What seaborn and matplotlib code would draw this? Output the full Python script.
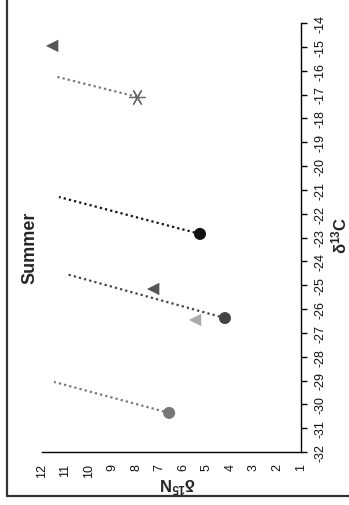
import matplotlib
matplotlib.use("Agg")
import matplotlib.pyplot as plt
import seaborn as sns
from matplotlib.lines import Line2D

# chart is drawn turned a quarter turn: x = d15N (12 -> 1), y = d13C
circle_c13 = [-22.85, -26.38, -30.36]
circle_n15 = [5.29, 4.23, 6.6]
circle_colors = ['#111111', '#444444', '#777777']

# dotted lines run from each circle up to these ends
line_end_c13 = [-21.3, -24.53, -29.06]
line_end_n15 = [11.28, 10.98, 11.49]
line_colors = ['#111111', '#444444', '#777777']

tri_c13 = [-14.96, -25.16, -26.46]
tri_n15 = [11.57, 7.28, 5.5]
tri_colors = ['#555555', '#555555', '#aaaaaa']

star_c13 = [-17.1]
star_n15 = [7.96]
star_line_end_c13 = [-16.26]
star_line_end_n15 = [11.36]

c13_ticks = list(range(-32, -13))
n15_ticks = list(range(1, 13))

sns.set_style('white')
plt.rcParams['font.family'] = ['Liberation Sans', 'DejaVu Sans']
plt.rcParams['axes.unicode_minus'] = False
plt.rcParams['mathtext.fontset'] = 'custom'
plt.rcParams['mathtext.rm'] = 'Liberation Sans'
plt.rcParams['mathtext.bf'] = 'Liberation Sans:bold'
plt.rcParams['mathtext.default'] = 'bf'

fig = plt.figure(figsize=(3.49, 5.06), dpi=100)
ax = fig.add_axes([42 / 349, 1 - 453 / 506, (301 - 42) / 349, (453 - 24) / 506])

dots = (0, (1, 1.4))
for i in range(3):
    sns.lineplot(x=[circle_n15[i], line_end_n15[i]], y=[circle_c13[i], line_end_c13[i]],
                 color=line_colors[i], lw=1.6, linestyle=dots, sort=False, ax=ax)
sns.lineplot(x=[star_n15[0], star_line_end_n15[0]], y=[star_c13[0], star_line_end_c13[0]],
             color='#777777', lw=1.6, linestyle=dots, sort=False, ax=ax)

for i in range(3):
    sns.scatterplot(x=[circle_n15[i]], y=[circle_c13[i]], color=circle_colors[i],
                    marker='o', s=75, edgecolor='none', ax=ax, zorder=3)
    sns.scatterplot(x=[tri_n15[i]], y=[tri_c13[i]], color=tri_colors[i],
                    marker='<', s=80, edgecolor='none', ax=ax, zorder=3)
sns.scatterplot(x=star_n15, y=star_c13, color='#666666', marker=(6, 2, 90),
                s=120, linewidth=0.9, ax=ax, zorder=3)

ax.set_xlim(12, 1)
ax.set_ylim(-32, -14)
ax.set_xticks(n15_ticks)
ax.set_yticks(c13_ticks)
ax.yaxis.tick_right()
for s in ['top', 'left']:
    ax.spines[s].set_visible(False)
for s in ['right', 'bottom']:
    ax.spines[s].set_color('black')
    ax.spines[s].set_linewidth(1.0)
ax.tick_params(axis='both', direction='out', length=4, width=1, color='black',
               labelsize=9, labelrotation=90, labelcolor='#111111')
ax.tick_params(axis='y', pad=6)
ax.tick_params(axis='x', pad=4)
for t in ax.get_yticklabels():
    t.set_va('center')
ax.set_xlabel('')
ax.set_ylabel('')

fig.text(30 / 349, 1 - 248 / 506, 'Summer', rotation=90, fontsize=13,
         fontweight='bold', ha='center', va='center')
fig.text(339 / 349, 1 - 235 / 506, 'δ$^{13}$C', rotation=90, fontsize=12,
         fontweight='bold', ha='center', va='center')
fig.text(178 / 349, 1 - 485 / 506, 'δ$^{15}$N', rotation=180, fontsize=12,
         fontweight='bold', ha='center', va='center')

fig.add_artist(Line2D([7 / 349, 7 / 349], [1.0, 1 - 497 / 506], transform=fig.transFigure,
                      color='#333333', lw=1.6))
fig.add_artist(Line2D([7 / 349, 1.0], [1 - 497 / 506, 1 - 497 / 506], transform=fig.transFigure,
                      color='#333333', lw=1.6))

fig.savefig('out.png', dpi=100)
